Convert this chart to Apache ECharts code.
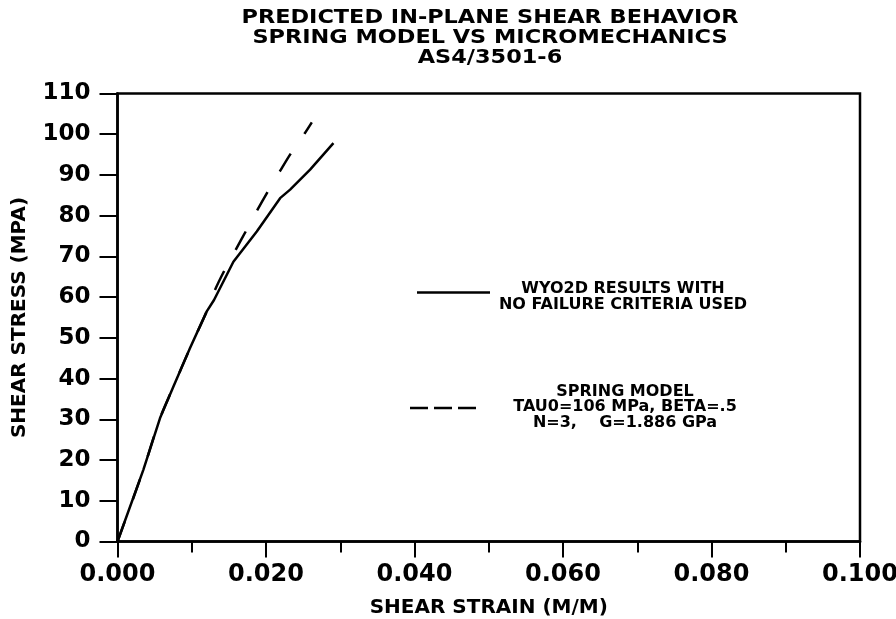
<!DOCTYPE html>
<html>
<head>
<meta charset="utf-8">
<script src="https://cdn.jsdelivr.net/npm/echarts@6/dist/echarts.min.js"></script>
<style>html,body{margin:0;padding:0;background:#fff}#c{width:896px;height:619px}</style>
</head>
<body>
<div id="c"></div>
<script>
// ---- data ----
const titleLines = ['PREDICTED IN-PLANE SHEAR BEHAVIOR', 'SPRING MODEL VS MICROMECHANICS', 'AS4/3501-6'];
const xName = 'SHEAR STRAIN (M/M)';
const yName = 'SHEAR STRESS (MPA)';
const xTicks = [0, 0.02, 0.04, 0.06, 0.08, 0.1];
const yTicks = [0, 10, 20, 30, 40, 50, 60, 70, 80, 90, 100, 110];
const wyoStrain = [0, 0.00348, 0.00573, 0.00752, 0.00977, 0.01202, 0.0130, 0.01561, 0.01876, 0.0219, 0.02325, 0.02594, 0.02908];
const wyoStress = [0, 17.6, 30.3, 38.0, 47.5, 56.5, 59.3, 68.7, 76.1, 84.3, 86.4, 91.3, 97.8];
const springStrain = [0, 0.00348, 0.00573, 0.00752, 0.00977, 0.01202, 0.01314, 0.01439, 0.01597, 0.01732, 0.01884, 0.02024, 0.0219, 0.02338, 0.02518, 0.02617];
const springStress = [0, 17.6, 30.3, 38.0, 47.5, 56.5, 61.8, 66.5, 71.8, 76.3, 81.4, 85.9, 91.0, 95.4, 100.1, 102.9];
const legend1 = ['WYO2D RESULTS WITH', 'NO FAILURE CRITERIA USED'];
const legend2 = ['SPRING MODEL', 'TAU0=106 MPa, BETA=.5', 'N=3,    G=1.886 GPa'];

const FONT = '"DejaVu Sans", sans-serif';
const chart = echarts.init(document.getElementById('c'), null, {renderer: 'canvas'});
const zip = (a, b) => a.map((v, i) => [v, b[i]]);

chart.setOption({
  animation: false,
  backgroundColor: '#fff',
  grid: {left: 117.5, right: 36, top: 93.5, bottom: 77.5, containLabel: false, outerBoundsMode: 'none',
         show: true, borderColor: '#000', borderWidth: 2.5},
  xAxis: {
    type: 'value', min: xTicks[0], max: xTicks[xTicks.length - 1], interval: 0.02,
    name: xName, nameLocation: 'middle', nameGap: 56,
    nameTextStyle: {fontFamily: FONT, fontWeight: 'bold', fontSize: 20, color: '#000'},
    axisLine: {lineStyle: {color: '#000', width: 2.5}},
    axisTick: {length: 16, lineStyle: {color: '#000', width: 2}},
    minorTick: {show: true, splitNumber: 2, length: 11, lineStyle: {color: '#000', width: 2}},
    splitLine: {show: false},
    axisLabel: {margin: 21, fontFamily: FONT, fontWeight: 'bold', fontSize: 24, color: '#000', formatter: v => v.toFixed(3)}
  },
  yAxis: {
    type: 'value', min: yTicks[0], max: yTicks[yTicks.length - 1], interval: 10,
    name: yName, nameLocation: 'middle', nameGap: 88, nameRotate: 90,
    nameTextStyle: {fontFamily: FONT, fontWeight: 'bold', fontSize: 20, color: '#000'},
    axisLine: {lineStyle: {color: '#000', width: 2.5}},
    axisTick: {length: 18, lineStyle: {color: '#000', width: 2}},
    splitLine: {show: false},
    axisLabel: {margin: 27, fontFamily: FONT, fontWeight: 'bold', fontSize: 23, color: '#000'}
  },
  series: [
    {type: 'line', data: zip(wyoStrain, wyoStress), showSymbol: false, symbol: 'none',
     lineStyle: {color: '#000', width: 2.5}},
    {type: 'line', data: zip(springStrain, springStress), showSymbol: false, symbol: 'none', smooth: 0.3,
     lineStyle: {color: '#000', width: 2.5, type: [21, 24]}}
  ],
  graphic: [
    {type: 'text', x: 490, y: 8, scaleX: 1.12, style: {text: titleLines.join('\n'), textAlign: 'center', fill: '#000',
      font: 'bold 20px ' + FONT, lineHeight: 20}},
    {type: 'line', shape: {x1: 417, y1: 292.5, x2: 490, y2: 292.5}, style: {stroke: '#000', lineWidth: 2.5}},
    {type: 'text', x: 623, y: 281, style: {text: legend1.join('\n'), textAlign: 'center', fill: '#000',
      font: 'bold 16px ' + FONT, lineHeight: 16}},
    {type: 'line', shape: {x1: 410, y1: 408, x2: 480, y2: 408}, style: {stroke: '#000', lineWidth: 2.5, lineDash: [18, 6]}},
    {type: 'text', x: 625, y: 384, style: {text: legend2.join('\n'), textAlign: 'center', fill: '#000',
      font: 'bold 16px ' + FONT, lineHeight: 15.5}}
  ]
});
</script>
</body>
</html>
